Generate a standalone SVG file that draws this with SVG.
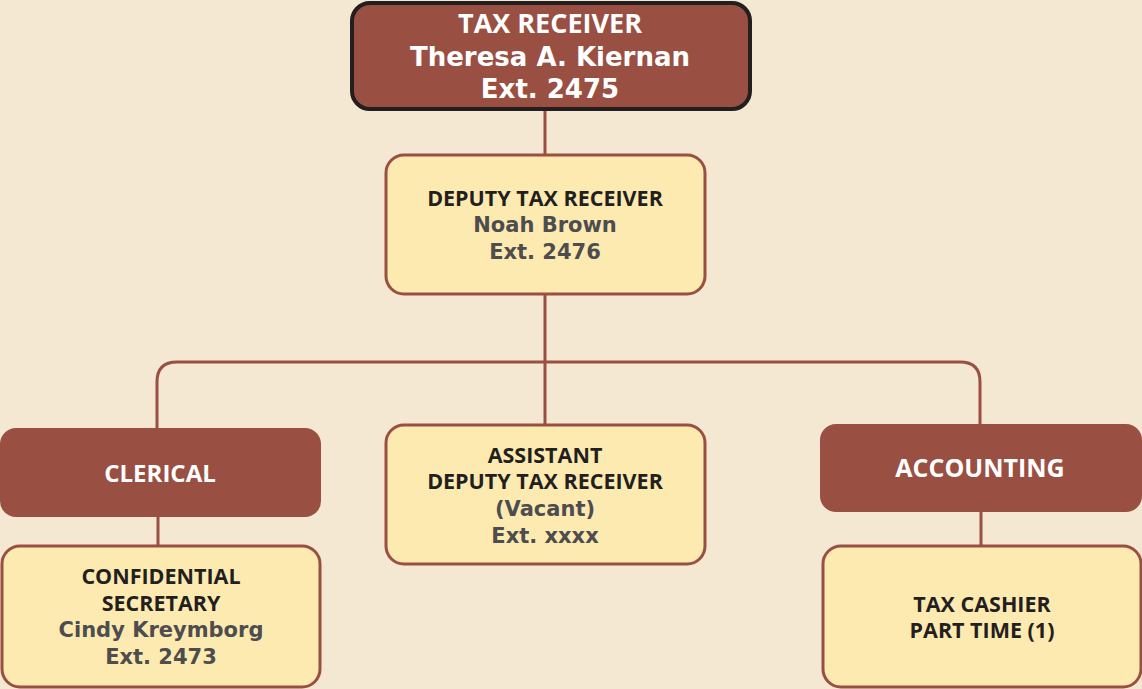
<svg xmlns="http://www.w3.org/2000/svg" width="1142" height="689" viewBox="0 0 1142 689">
<style>
.bg{fill:#F4E8D3}
.dept{fill:#9A4F43}
.pos{fill:#FDEAB0;stroke:#9A4F43;stroke-width:3}
.top{fill:#9A4F43;stroke:#231F20;stroke-width:4}
.ttl{font-family:"Open Sans","Liberation Sans",sans-serif;font-weight:700;text-anchor:middle}
.nm{font-family:"DejaVu Sans","Verdana",sans-serif;font-weight:700;text-anchor:middle}
.w{fill:#FFFFFF}
.k{fill:#231F20}
.g{fill:#4D4D4F}
.ln{fill:none;stroke:#9A4F43;stroke-width:3}
</style>
<rect class="bg" x="0" y="0" width="1142" height="689"/>
<g id="connectors">
<path class="ln" d="M545 110 V155"/>
<path class="ln" d="M545 294 V425"/>
<path class="ln" d="M157 428 V382 Q157 362 177 362 H960 Q980 362 980 382 V424"/>
<path class="ln" d="M158 517 V546"/>
<path class="ln" d="M981 512 V546"/>
</g>
<g id="tax-receiver">
<rect class="top" x="352" y="3" width="398" height="106" rx="18"/>
<text class="ttl w" x="550" y="33" font-size="27">TAX RECEIVER</text>
<text class="nm w" x="550" y="66" font-size="26">Theresa A. Kiernan</text>
<text class="nm w" x="550" y="98" font-size="26">Ext. 2475</text>
</g>
<g id="deputy">
<rect class="pos" x="386" y="155" width="319" height="139" rx="18"/>
<text class="ttl k" x="545" y="206" font-size="21.5">DEPUTY TAX RECEIVER</text>
<text class="nm g" x="545" y="232" font-size="21">Noah Brown</text>
<text class="nm g" x="545" y="259" font-size="21">Ext. 2476</text>
</g>
<g id="clerical">
<rect class="dept" x="0" y="428" width="321" height="89" rx="16"/>
<text class="ttl w" x="160" y="482" font-size="24">CLERICAL</text>
</g>
<g id="assistant">
<rect class="pos" x="386" y="425" width="319" height="139" rx="18"/>
<text class="ttl k" x="545" y="463" font-size="21.5">ASSISTANT</text>
<text class="ttl k" x="545" y="489" font-size="21.5">DEPUTY TAX RECEIVER</text>
<text class="nm g" x="545" y="516" font-size="21">(Vacant)</text>
<text class="nm g" x="545" y="543" font-size="21">Ext. xxxx</text>
</g>
<g id="accounting">
<rect class="dept" x="820" y="424" width="322" height="88" rx="16"/>
<text class="ttl w" x="980" y="477" font-size="25">ACCOUNTING</text>
</g>
<g id="confidential-secretary">
<rect class="pos" x="2" y="546" width="318" height="141" rx="18"/>
<text class="ttl k" x="161" y="584" font-size="21.5">CONFIDENTIAL</text>
<text class="ttl k" x="161" y="611" font-size="21.5">SECRETARY</text>
<text class="nm g" x="161" y="637" font-size="21">Cindy Kreymborg</text>
<text class="nm g" x="161" y="664" font-size="21">Ext. 2473</text>
</g>
<g id="tax-cashier">
<rect class="pos" x="823" y="546" width="318" height="141" rx="18"/>
<text class="ttl k" x="982" y="612" font-size="21.5">TAX CASHIER</text>
<text class="ttl k" x="982" y="638" font-size="21.5">PART TIME (1)</text>
</g>
</svg>
